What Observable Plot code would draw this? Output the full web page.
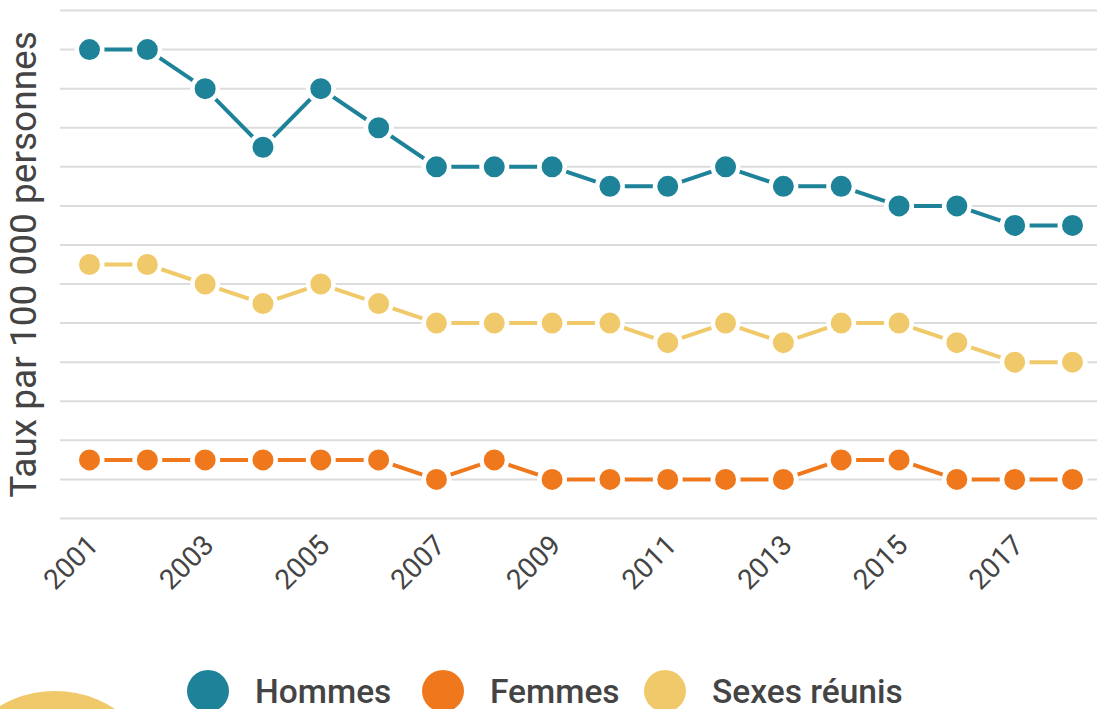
<!DOCTYPE html>
<html>
<head>
<meta charset="utf-8">
<script src="https://cdn.jsdelivr.net/npm/d3@7"></script>
<script src="https://cdn.jsdelivr.net/npm/@observablehq/plot@0.6"></script>
<style>
  html, body { margin: 0; padding: 0; background: #fff; }
  body { width: 1097px; height: 709px; overflow: hidden; position: relative; font-family: Roboto, sans-serif; }
  #chart { position: absolute; left: 0; top: 0; }
  #deco { position: absolute; left: -54px; top: 691px; width: 218px; height: 218px; border-radius: 50%; background: #f0ca6a; }
  #legend { position: absolute; left: 0; top: 670px; width: 1097px; height: 42px; }
  .item { position: absolute; top: 0; display: flex; align-items: center; height: 42px; }
  .sw { width: 42px; height: 42px; border-radius: 50%; flex: none; }
  .lab { font-size: 33.5px; font-weight: 500; color: #444; margin-left: 26px; white-space: nowrap; }
</style>
</head>
<body>
<div id="chart"></div>
<div id="deco"></div>
<div id="legend"></div>
<script>
const years = [2001, 2002, 2003, 2004, 2005, 2006, 2007, 2008, 2009, 2010, 2011, 2012, 2013, 2014, 2015, 2016, 2017, 2018];
const hommes = [24, 24, 22, 19, 22, 20, 18, 18, 18, 17, 17, 18, 17, 17, 16, 16, 15, 15];
const femmes = [3, 3, 3, 3, 3, 3, 2, 3, 2, 2, 2, 2, 2, 3, 3, 2, 2, 2];
const sexesReunis = [13, 13, 12, 11, 12, 11, 10, 10, 10, 10, 9, 10, 9, 10, 10, 9, 8, 8];
const seriesNames = ["Hommes", "Femmes", "Sexes réunis"];
const seriesColors = ["#1e8299", "#f0781c", "#f0ca6a"];
const xTicks = [2001, 2003, 2005, 2007, 2009, 2011, 2013, 2015, 2017];
const yGrid = [0, 2, 4, 6, 8, 10, 12, 14, 16, 18, 20, 22, 24, 26];
const yLabel = "Taux par 100 000 personnes";

const seriesValues = [hommes, femmes, sexesReunis];
const data = [];
seriesNames.forEach((name, i) => {
  years.forEach((yr, j) => data.push({serie: name, annee: yr, valeur: seriesValues[i][j]}));
});

const chart = Plot.plot({
  width: 1097,
  height: 640,
  marginTop: 10,
  marginBottom: 122,
  marginLeft: 60,
  marginRight: 0,
  style: {fontFamily: "Roboto, sans-serif", background: "transparent", overflow: "visible"},
  x: {type: "linear", domain: [2001, 2018], insetLeft: 29, insetRight: 25, axis: null},
  y: {domain: [0, 26], axis: null},
  color: {domain: seriesNames, range: seriesColors},
  marks: [
    Plot.ruleY(yGrid, {stroke: "#dcdcdc", strokeWidth: 2}),
    Plot.axisX({ticks: xTicks, tickFormat: d => String(d), tickSize: 0, tickRotate: -45, tickPadding: 6, dy: 16, dx: 4, fontSize: 28, fill: "#444", label: null}),
    Plot.text([yLabel], {frameAnchor: "left", textAnchor: "middle", rotate: -90, dx: -36, fontSize: 37, fill: "#444"}),
    Plot.line(data, {x: "annee", y: "valeur", z: "serie", stroke: "serie", strokeWidth: 4}),
    Plot.dot(data, {x: "annee", y: "valeur", fill: "serie", r: 12.75, stroke: "white", strokeWidth: 4.5})
  ]
});
document.getElementById("chart").appendChild(chart);

const legend = document.getElementById("legend");
const legendX = [187, 422, 644];
seriesNames.forEach((name, i) => {
  const it = document.createElement("div");
  it.className = "item";
  it.style.left = legendX[i] + "px";
  const sw = document.createElement("div");
  sw.className = "sw";
  sw.style.background = seriesColors[i];
  const lab = document.createElement("span");
  lab.className = "lab";
  lab.textContent = name;
  it.appendChild(sw);
  it.appendChild(lab);
  legend.appendChild(it);
});
</script>
</body>
</html>
